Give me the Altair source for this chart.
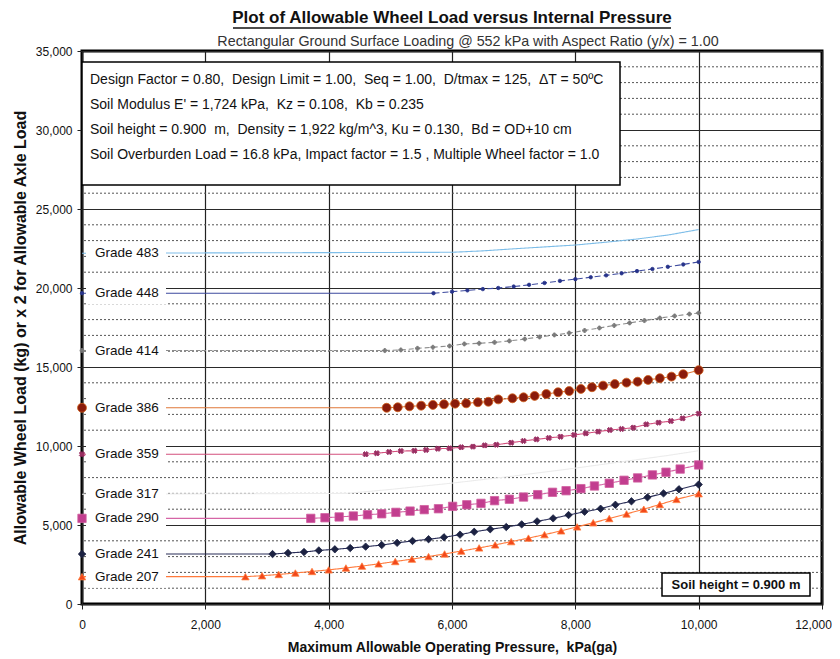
import altair as alt
import pandas as pd

# ---------------- data ----------------
g207_p = [0, 2650, 2920, 3190, 3460, 3730, 4000, 4280, 4540, 4810, 5080, 5350, 5620, 5880, 6150, 6440, 6700, 6960, 7240, 7500, 7770, 8030, 8290, 8550, 8830, 9110, 9370, 9640, 10000]
g207_w = [1730, 1730, 1790, 1870, 1960, 2060, 2160, 2280, 2400, 2540, 2690, 2840, 3000, 3170, 3350, 3550, 3740, 3950, 4170, 4390, 4630, 4880, 5140, 5410, 5700, 6000, 6300, 6620, 6980]

g241_p = [0, 3090, 3340, 3600, 3840, 4100, 4350, 4600, 4860, 5110, 5360, 5620, 5870, 6130, 6360, 6620, 6880, 7130, 7380, 7640, 7890, 8150, 8410, 8650, 8910, 9170, 9430, 9680, 10000]
g241_w = [3160, 3160, 3230, 3290, 3390, 3460, 3540, 3630, 3730, 3870, 3990, 4100, 4220, 4390, 4570, 4730, 4870, 5040, 5230, 5420, 5630, 5840, 6030, 6280, 6500, 6750, 7000, 7260, 7560]

g290_p = [0, 3710, 3940, 4170, 4400, 4630, 4860, 5090, 5320, 5550, 5780, 6010, 6240, 6470, 6690, 6930, 7160, 7390, 7630, 7850, 8090, 8310, 8550, 8790, 9010, 9250, 9470, 9700, 10000]
g290_w = [5420, 5420, 5460, 5510, 5570, 5650, 5710, 5800, 5880, 5970, 6030, 6180, 6280, 6370, 6540, 6630, 6770, 6920, 7070, 7170, 7300, 7470, 7640, 7830, 7980, 8170, 8340, 8540, 8800]

g317_p = [0, 4300, 5000, 6000, 7000, 8000, 8750, 9500, 10000]
g317_w = [6950, 7000, 7250, 7650, 8100, 8600, 9000, 9400, 9700]

g359_p = [0, 4600, 4780, 4980, 5170, 5390, 5580, 5770, 5960, 6150, 6340, 6530, 6720, 6960, 7160, 7370, 7570, 7760, 7980, 8170, 8370, 8560, 8750, 8940, 9150, 9350, 9550, 9740, 10000]
g359_w = [9480, 9480, 9540, 9620, 9680, 9700, 9750, 9830, 9850, 9920, 9960, 10040, 10080, 10210, 10320, 10420, 10510, 10590, 10700, 10800, 10910, 11010, 11080, 11160, 11370, 11480, 11580, 11750, 12050]

g386_p = [0, 4940, 5120, 5310, 5500, 5690, 5870, 6050, 6230, 6420, 6590, 6750, 6980, 7160, 7340, 7530, 7720, 7900, 8090, 8270, 8450, 8640, 8830, 9010, 9180, 9370, 9560, 9750, 10000]
g386_w = [12420, 12420, 12450, 12510, 12550, 12600, 12640, 12680, 12700, 12770, 12800, 12950, 13020, 13080, 13170, 13290, 13400, 13480, 13610, 13720, 13820, 13920, 14010, 14070, 14180, 14290, 14390, 14540, 14800]

g414_p = [0, 4910, 5170, 5440, 5690, 5960, 6200, 6440, 6690, 6930, 7180, 7420, 7660, 7900, 8150, 8390, 8630, 8880, 9120, 9370, 9610, 9850, 10000]
g414_w = [16040, 16040, 16080, 16180, 16250, 16330, 16460, 16500, 16560, 16650, 16770, 16900, 17030, 17150, 17310, 17470, 17630, 17790, 17940, 18100, 18230, 18350, 18420]

g448_p = [0, 5700, 6000, 6250, 6500, 6750, 7000, 7250, 7500, 7750, 8000, 8250, 8500, 8750, 9000, 9250, 9500, 9750, 10000]
g448_w = [19670, 19670, 19770, 19850, 19930, 20000, 20090, 20200, 20320, 20450, 20560, 20680, 20800, 20930, 21070, 21200, 21340, 21490, 21650]

g483_p = [0, 6000, 6500, 7000, 7500, 8000, 8500, 9000, 9500, 10000]
g483_w = [22200, 22260, 22350, 22480, 22600, 22720, 22900, 23100, 23350, 23700]

grade_names = ["Grade 207", "Grade 241", "Grade 290", "Grade 317", "Grade 359",
               "Grade 386", "Grade 414", "Grade 448", "Grade 483"]
x_ticks = [0, 2000, 4000, 6000, 8000, 10000, 12000]
y_ticks = [0, 5000, 10000, 15000, 20000, 25000, 30000, 35000]
y_minor = [1000, 2000, 3000, 4000, 6000, 7000, 8000, 9000, 11000, 12000, 13000, 14000,
           16000, 17000, 18000, 19000, 21000, 22000, 23000, 24000, 26000, 27000, 28000,
           29000, 31000, 32000, 33000, 34000]

NB = "\u00a0"
title_text = "Plot of Allowable Wheel Load versus Internal Pressure"
subtitle_text = "Rectangular Ground Surface Loading @ 552 kPa with Aspect Ratio (y/x) = 1.00"
x_title = f"Maximum Allowable Operating Pressure,{NB} kPa(ga)"
y_title = "Allowable Wheel Load (kg) or x 2 for Allowable Axle Load"
note_lines = [
    f"Design Factor = 0.80,{NB} Design Limit = 1.00,{NB} Seq = 1.00,{NB} D/tmax = 125,{NB} \u0394T = 50\u00baC",
    f"Soil Modulus E' = 1,724 kPa,{NB} Kz = 0.108,{NB} Kb = 0.235",
    f"Soil height = 0.900 {NB}m,{NB} Density = 1,922 kg/m^3, Ku = 0.130,{NB} Bd = OD+10 cm",
    "Soil Overburden Load = 16.8 kPa, Impact factor = 1.5 , Multiple Wheel factor = 1.0",
]
soil_text = "Soil height = 0.900 m"

# ---------------- styles ----------------
FONT = "Liberation Sans"
series = {
    "Grade 207": (g207_p, g207_w, dict(line="#ff7a3c", dash=[1, 0], flat_dash=[1, 0], fill="#f2471a", stroke="#ff7f40", shape="triangle-up", size=55, angle=0)),
    "Grade 241": (g241_p, g241_w, dict(line="#2a2e58", dash=[1, 0], flat_dash=[1, 0], fill="#1c2242", stroke="#1c2242", shape="diamond", size=55, angle=0)),
    "Grade 290": (g290_p, g290_w, dict(line="#d565a6", dash=[1, 0], flat_dash=[1, 0], fill="#c23e8f", stroke="#d060a0", shape="square", size=70, angle=0)),
    "Grade 317": (g317_p, g317_w, dict(line="#ececec", dash=[1, 0], flat_dash=[1, 0], fill=None)),
    "Grade 359": (g359_p, g359_w, dict(line="#d4507e", dash=[1, 0], flat_dash=[1, 0], fill="#9a2e62", stroke="#9a2e62", shape="cross", size=30, angle=45)),
    "Grade 386": (g386_p, g386_w, dict(line="#e0783a", dash=[1, 0], flat_dash=[1, 0], fill="#8a1c0c", stroke="#d0601a", shape="circle", size=80, angle=0)),
    "Grade 414": (g414_p, g414_w, dict(line="#8c8c8c", dash=[5, 3], flat_dash=[4, 2], fill="#7a7a7a", stroke="#7a7a7a", shape="cross", size=16, angle=0)),
    "Grade 448": (g448_p, g448_w, dict(line="#3d4a9e", dash=[6, 3], flat_dash=[1, 0], fill="#27338a", stroke="#27338a", shape="circle", size=12, angle=0)),
    "Grade 483": (g483_p, g483_w, dict(line="#7dbde8", dash=[1, 0], flat_dash=[1, 0], fill=None)),
}

x_scale = alt.Scale(domain=[0, 12000], nice=False, zero=True)
y_scale = alt.Scale(domain=[0, 35000], nice=False, zero=True)
LABEL_EXPR = "format(datum.value, ',')"

x_axis = alt.Axis(
    values=x_ticks, labelExpr=LABEL_EXPR, title=x_title, labelFlush=False,
    labelOffset={"condition": {"test": "datum.value === 12000", "value": -9}, "value": 0},
    grid=True, gridColor="#222222", gridWidth=1.2, domain=False,
    tickSize=5, tickColor="#222222", labelPadding=10, labelFontSize=12, labelColor="#111111",
    titleFontSize=14, titleFontWeight="bold", titlePadding=10, titleColor="#111111",
    labelFont=FONT, titleFont=FONT,
)
y_axis = alt.Axis(
    values=y_ticks, labelExpr=LABEL_EXPR, title=y_title, labelFlush=False,
    grid=True, gridColor="#2a2a2a", gridWidth=1.2, domain=False,
    tickSize=5, tickColor="#222222", labelPadding=5, labelFontSize=12, labelColor="#111111",
    titleFontSize=16, titleFontWeight="bold", titlePadding=7, titleColor="#111111",
    labelFont=FONT, titleFont=FONT,
)


def X(field):
    return alt.X(field, scale=x_scale, axis=x_axis)


def Y(field):
    return alt.Y(field, scale=y_scale, axis=y_axis)


layers = []
# dotted minor gridlines
layers.append(
    alt.Chart(pd.DataFrame({"v": y_minor})).mark_rule(color="#555555", strokeWidth=1, strokeDash=[2, 2])
    .encode(y=Y("v:Q"))
)

for name, (ps, ws, st) in series.items():
    d = pd.DataFrame({"p": ps, "w": ws})
    # flat part from the axis to the first computed point
    layers.append(
        alt.Chart(d.iloc[:2]).mark_line(color=st["line"], strokeWidth=1.1, strokeDash=st["flat_dash"])
        .encode(x=X("p:Q"), y=Y("w:Q"))
    )
    layers.append(
        alt.Chart(d.iloc[1:]).mark_line(color=st["line"], strokeWidth=1.1, strokeDash=st["dash"])
        .encode(x=X("p:Q"), y=Y("w:Q"))
    )

# white boxes behind grade labels
lab = pd.DataFrame({"grade": grade_names, "w": [series[g][1][0] for g in grade_names]})
layers.append(
    alt.Chart(lab).transform_calculate(lo="datum.w - 700", hi="datum.w + 700")
    .mark_rect(fill="white")
    .encode(x=alt.value(4), x2=alt.value(84), y=Y("lo:Q"), y2="hi:Q")
)
layers.append(
    alt.Chart(lab).mark_text(align="left", baseline="middle", fontSize=13.5, font=FONT, color="#111111")
    .encode(x=alt.value(13), y=Y("w:Q"), text="grade:N")
)

# markers
for name, (ps, ws, st) in series.items():
    if st["fill"] is None:
        continue
    d = pd.DataFrame({"p": ps, "w": ws})
    layers.append(
        alt.Chart(d).mark_point(shape=st["shape"], size=st["size"], filled=True, fill=st["fill"],
                                stroke=st["stroke"], strokeWidth=0.8, opacity=1, angle=st["angle"])
        .encode(x=X("p:Q"), y=Y("w:Q"))
    )

one = pd.DataFrame({"k": [0]})
# note box
layers.append(alt.Chart(one).mark_rect(fill="white", stroke="black", strokeWidth=1.5)
              .encode(x=alt.value(0), x2=alt.value(538), y=alt.value(11), y2=alt.value(134)))
layers.append(alt.Chart(one).mark_text(text=note_lines, align="left", baseline="middle", lineHeight=25,
                                       fontSize=14, font=FONT, color="#111111")
              .encode(x=alt.value(8), y=alt.value(29)))
# soil height box
layers.append(alt.Chart(one).mark_rect(fill="white", stroke="black", strokeWidth=1.5)
              .encode(x=alt.value(580), x2=alt.value(728), y=alt.value(522), y2=alt.value(545)))
layers.append(alt.Chart(one).mark_text(text=soil_text, align="center", baseline="middle",
                                       fontSize=13, fontWeight="bold", font=FONT, color="#111111")
              .encode(x=alt.value(654), y=alt.value(534)))
# titles
layers.append(alt.Chart(one).mark_text(text=title_text, align="center", baseline="middle",
                                       fontSize=17, fontWeight="bold", font=FONT, color="#111111")
              .encode(x=alt.value(370), y=alt.value(-33)))
layers.append(alt.Chart(one).mark_rule(color="#111111", strokeWidth=1.3)
              .encode(x=alt.value(151), x2=alt.value(589), y=alt.value(-23)))
layers.append(alt.Chart(one).mark_text(text=subtitle_text, align="center", baseline="middle",
                                       fontSize=14.3, font=FONT, color="#333333")
              .encode(x=alt.value(386), y=alt.value(-9)))

chart = alt.layer(*layers).properties(
    width=740, height=553,
    padding={"left": 74, "top": 43, "right": 10, "bottom": 54},
    autosize=alt.AutoSizeParams(type="none"),
).configure_view(stroke="black", strokeWidth=3)

chart.save("out.html", embed_options={"renderer": "svg", "actions": False})
